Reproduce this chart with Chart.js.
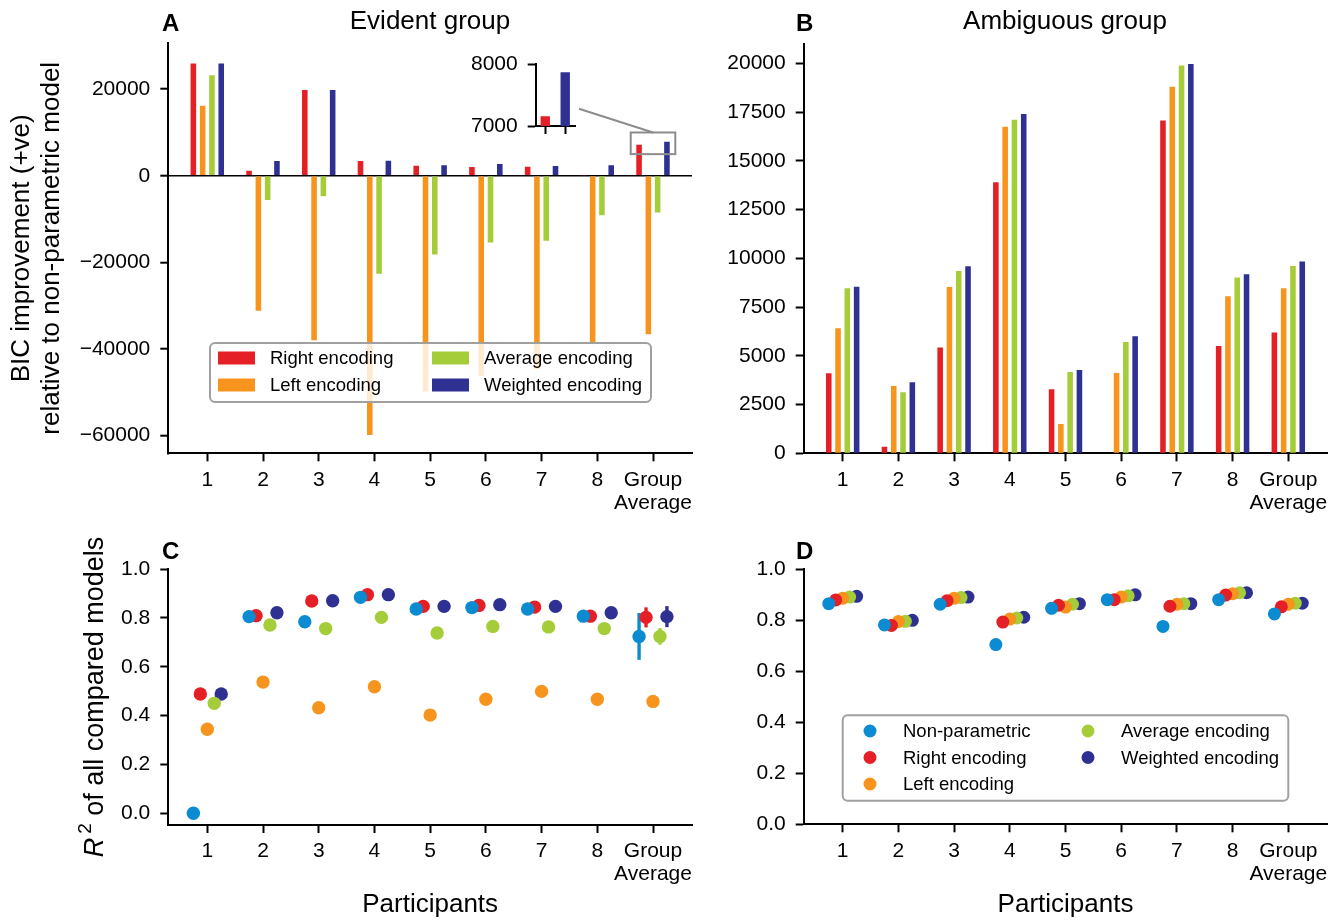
<!DOCTYPE html>
<html lang="en">
<head>
<meta charset="UTF-8">
<title>BIC improvement and R² per participant</title>
<script src="https://cdn.jsdelivr.net/npm/chart.js"></script>
<style>
  body { margin: 0; background: #fff; }
  #fig { position: relative; width: 1343px; height: 920px; font-family: 'Liberation Sans', Arial, sans-serif; color: #000; }
  #fig canvas { position: absolute; }
  .txt { position: absolute; white-space: nowrap; }
  .letter { font-weight: bold; font-size: 24px; line-height: 24px; }
  .title { font-size: 26px; line-height: 26px; width: 400px; text-align: center; }
</style>
</head>
<body>
<div id="fig">
  <canvas id="chartA" width="720" height="525" style="left:0;top:10px"></canvas>
  <canvas id="chartB" width="653" height="525" style="left:690px;top:10px"></canvas>
  <canvas id="chartC" width="720" height="385" style="left:0;top:535px"></canvas>
  <canvas id="chartD" width="653" height="385" style="left:690px;top:535px"></canvas>
  <canvas id="chartInset" width="150" height="125" style="left:440px;top:30px"></canvas>

  <div class="txt letter" style="left:162px;top:11px">A</div>
  <div class="txt letter" style="left:796px;top:11px">B</div>
  <div class="txt letter" style="left:162px;top:539px">C</div>
  <div class="txt letter" style="left:796px;top:539px">D</div>
  <div class="txt title" style="left:230px;top:7px">Evident group</div>
  <div class="txt title" style="left:865px;top:7px">Ambiguous group</div>
</div>

<script>
  // ---- data ----
  const participants = ['1', '2', '3', '4', '5', '6', '7', '8', ['Group', 'Average']];

  // BIC improvement relative to the non-parametric model, evident group
  const evidentRight    = [25950, 1150, 19800, 3400, 2300, 2000, 2100, 100, 7160];
  const evidentLeft     = [16200, -31200, -38000, -59900, -49800, -46200, -44600, -38900, -36600];
  const evidentAverage  = [23200, -5600, -4700, -22600, -18200, -15400, -15000, -9100, -8500];
  const evidentWeighted = [25950, 3400, 19800, 3450, 2450, 2700, 2250, 2450, 7870];
  const evidentTicks = [-60000, -40000, -20000, 0, 20000];
  const insetTicks = [7000, 8000];

  // BIC improvement, ambiguous group
  const ambiguousRight    = [4100, 340, 5420, 13900, 3280, 0, 17070, 5500, 6200];
  const ambiguousLeft     = [6410, 3450, 8530, 16750, 1500, 4120, 18800, 8050, 8460];
  const ambiguousAverage  = [8460, 3130, 9350, 17110, 4170, 5710, 19890, 9020, 9600];
  const ambiguousWeighted = [8545, 3640, 9590, 17400, 4270, 6000, 19960, 9180, 9840];
  const ambiguousTicks = [0, 2500, 5000, 7500, 10000, 12500, 15000, 17500, 20000];

  // R^2 of compared models, evident group
  const evidentR2NonPar   = [0.000, 0.805, 0.784, 0.884, 0.836, 0.842, 0.836, 0.807, 0.724];
  const evidentR2Right    = [0.488, 0.809, 0.869, 0.895, 0.847, 0.851, 0.844, 0.807, 0.802];
  const evidentR2Left     = [0.344, 0.537, 0.432, 0.518, 0.402, 0.467, 0.499, 0.467, 0.458];
  const evidentR2Average  = [0.450, 0.771, 0.756, 0.802, 0.738, 0.765, 0.763, 0.756, 0.724];
  const evidentR2Weighted = [0.488, 0.821, 0.870, 0.895, 0.847, 0.854, 0.847, 0.821, 0.805];
  // error of the group average (non-param, right, left, average, weighted)
  const evidentR2GroupErr = [0.096, 0.041, 0.006, 0.034, 0.043];

  // R^2 of compared models, ambiguous group
  const ambiguousR2NonPar   = [0.864, 0.781, 0.862, 0.704, 0.846, 0.880, 0.775, 0.880, 0.824];
  const ambiguousR2Right    = [0.879, 0.779, 0.876, 0.792, 0.858, 0.880, 0.854, 0.898, 0.852];
  const ambiguousR2Left     = [0.885, 0.794, 0.885, 0.804, 0.851, 0.890, 0.862, 0.903, 0.862];
  const ambiguousR2Average  = [0.890, 0.795, 0.888, 0.808, 0.862, 0.895, 0.864, 0.907, 0.866];
  const ambiguousR2Weighted = [0.893, 0.799, 0.890, 0.811, 0.864, 0.899, 0.864, 0.907, 0.866];
  const r2Ticks = [0, 0.2, 0.4, 0.6, 0.8, 1.0];

  // ---- styling / layout ----
  const RED = '#e41f26', ORANGE = '#f7941d', GREEN = '#a5cd39', NAVY = '#2e3192', BLUE = '#0b8bd1';
  const FONT = "'Liberation Sans', Arial, sans-serif";
  const DOT_OFFSETS = [-0.25, -0.125, 0, 0.125, 0.25];

  Chart.defaults.font.family = FONT;
  Chart.defaults.color = '#000';

  // canvas boxes and the plot areas wanted inside them (page pixels)
  const POS = {
    A: { left: 0, top: 10, w: 720, h: 525 },
    B: { left: 690, top: 10, w: 653, h: 525 },
    C: { left: 0, top: 535, w: 720, h: 385 },
    D: { left: 690, top: 535, w: 653, h: 385 },
    inset: { left: 440, top: 30, w: 150, h: 125 }
  };
  const AREA = {
    A: { left: 168.3, top: 43.3, right: 692, bottom: 453.3 },
    B: { left: 803.7, top: 44, right: 1327.3, bottom: 453.3 },
    C: { left: 168.3, top: 569, right: 692, bottom: 825 },
    D: { left: 803.7, top: 569, right: 1327.3, bottom: 824.3 },
    inset: { left: 535.7, top: 64.3, right: 575, bottom: 126 }
  };

  function fitArea(key) {
    const p = POS[key], a = AREA[key];
    return {
      padding: { left: 0, bottom: 0, top: a.top - p.top, right: p.left + p.w - a.right },
      yWidth: a.left - p.left,
      xHeight: p.top + p.h - a.bottom
    };
  }

  const axisGrid = { drawOnChartArea: false, offset: false, tickLength: 8, tickWidth: 2, tickColor: '#000' };
  const axisBorder = { display: true, color: '#000', width: 2 };

  function participantAxis(height, title) {
    return {
      type: 'linear', min: -0.7, max: 8.7, offset: false,
      afterBuildTicks: s => { s.ticks = participants.map((_, i) => ({ value: i })); },
      afterFit: s => { s.height = height; },
      ticks: {
        callback: v => participants[v],
        font: { size: 21, lineHeight: 1.1 }, padding: 7,
        minRotation: 0, maxRotation: 0, autoSkip: false
      },
      grid: axisGrid,
      border: axisBorder,
      title: title ? { display: true, text: title, font: { size: 26, lineHeight: 1.2 }, padding: 0 } : { display: false }
    };
  }

  function valueAxis(width, min, max, ticks, fmt, extra) {
    return Object.assign({
      type: 'linear', min, max,
      afterBuildTicks: s => { s.ticks = ticks.map(v => ({ value: v })); },
      afterFit: s => { s.width = width; },
      ticks: { callback: fmt, font: { size: 21 }, padding: 10 },
      grid: axisGrid,
      border: axisBorder
    }, extra || {});
  }

  const signed = v => (v < 0 ? '\u2212' + (-v) : String(v));

  function barSets(series) {
    return series.map(([label, values, color]) => ({
      label,
      data: values.map((v, i) => ({ x: i, y: v })),
      backgroundColor: color,
      borderWidth: 0,
      categoryPercentage: 0.667,
      barPercentage: 0.6
    }));
  }

  function dotSets(series, radius, groupErr) {
    return series.map(([label, values, color], k) => ({
      label,
      data: values.map((v, i) => ({ x: i + DOT_OFFSETS[k], y: v })),
      backgroundColor: color,
      borderWidth: 0,
      pointRadius: radius,
      pointHoverRadius: radius,
      yErr: groupErr ? values.map((_, i) => (i === values.length - 1 ? groupErr[k] : 0)) : null
    }));
  }

  // framed legend inside the plot area; items = [datasetIndex, column, row]
  function boxLegend(id, box, items, marker) {
    return {
      id,
      afterDraw(chart) {
        const { ctx, chartArea: a } = chart;
        const x0 = a.left + box.x, y0 = a.top + box.y;
        ctx.save();
        ctx.beginPath();
        ctx.roundRect(x0, y0, box.w, box.h, 5);
        ctx.fillStyle = 'rgba(255,255,255,0.8)';
        ctx.fill();
        ctx.lineWidth = 2;
        ctx.strokeStyle = '#a0a0a0';
        ctx.stroke();
        ctx.font = '18.5px ' + FONT;
        ctx.textBaseline = 'middle';
        items.forEach(([di, col, row]) => {
          const ds = chart.data.datasets[di];
          const cy = y0 + box.row0 + row * box.rowGap;
          const mx = x0 + box.cols[col];
          ctx.fillStyle = ds.backgroundColor;
          if (marker === 'rect') {
            ctx.fillRect(mx, cy - 6.5, 37, 13);
          } else {
            ctx.beginPath();
            ctx.arc(mx, cy, 6.5, 0, Math.PI * 2);
            ctx.fill();
          }
          ctx.fillStyle = '#000';
          ctx.fillText(ds.label, mx + box.textGap, cy + 1);
        });
        ctx.restore();
      }
    };
  }

  const errorBars = {
    id: 'errorBars',
    beforeDatasetsDraw(chart) {
      const { ctx, scales: { x, y } } = chart;
      ctx.save();
      ctx.lineWidth = 3.4;
      chart.data.datasets.forEach(ds => {
        if (!ds.yErr) return;
        ds.data.forEach((p, i) => {
          const e = ds.yErr[i];
          if (!e) return;
          const px = x.getPixelForValue(p.x);
          ctx.strokeStyle = ds.backgroundColor;
          ctx.beginPath();
          ctx.moveTo(px, y.getPixelForValue(p.y - e));
          ctx.lineTo(px, y.getPixelForValue(p.y + e));
          ctx.stroke();
        });
      });
      ctx.restore();
    }
  };

  // y title with an italic R and superscript 2
  const r2Title = {
    id: 'r2Title',
    afterDraw(chart) {
      const { ctx, chartArea: a } = chart;
      const big = '27px ' + FONT, ital = 'italic 27px ' + FONT, small = '19px ' + FONT;
      const rest = ' of all compared models';
      ctx.save();
      ctx.translate(93, (a.top + a.bottom) / 2);
      ctx.rotate(-Math.PI / 2);
      ctx.font = ital; const wR = ctx.measureText('R').width + 4;
      ctx.font = small; const w2 = ctx.measureText('2').width;
      ctx.font = big; const wRest = ctx.measureText(rest).width;
      let x = -(wR + w2 + wRest) / 2;
      ctx.fillStyle = '#000';
      ctx.textBaseline = 'alphabetic';
      ctx.font = ital; ctx.fillText('R', x, 10); x += wR;
      ctx.font = small; ctx.fillText('2', x, -2); x += w2;
      ctx.font = big; ctx.fillText(rest, x, 10);
      ctx.restore();
    }
  };

  const common = { responsive: false, animation: false, devicePixelRatio: 1 };
  const noChrome = { legend: { display: false }, tooltip: { enabled: false } };

  // ---- inset: group average, right vs weighted ----
  const fi = fitArea('inset');
  const insetChart = new Chart(document.getElementById('chartInset'), {
    type: 'bar',
    data: {
      datasets: [{
        data: [{ x: 0, y: evidentRight[8] }, { x: 1, y: evidentWeighted[8] }],
        backgroundColor: [RED, NAVY],
        borderWidth: 0,
        categoryPercentage: 1,
        barPercentage: 0.47
      }]
    },
    options: Object.assign({}, common, {
      layout: { padding: fi.padding },
      plugins: noChrome,
      scales: {
        x: {
          type: 'linear', min: -0.48, max: 1.49, offset: false,
          afterBuildTicks: s => { s.ticks = [{ value: 0 }, { value: 1 }]; },
          afterFit: s => { s.height = fi.xHeight; },
          ticks: { callback: () => '', padding: 0 },
          grid: axisGrid, border: axisBorder
        },
        y: valueAxis(fi.yWidth, 7000, 8000, insetTicks, v => String(v))
      }
    })
  });

  // ---- A: evident group BIC ----
  const zoomMark = {
    id: 'zoomMark',
    afterDatasetsDraw(chart) {
      const { ctx, scales: { x, y } } = chart;
      const l = x.getPixelForValue(7.6), r = x.getPixelForValue(8.4);
      const t = y.getPixelForValue(10000), b = y.getPixelForValue(5000);
      const ia = insetChart.chartArea;
      const ex = POS.inset.left + ia.right + 4 - POS.A.left;
      const ey = POS.inset.top + insetChart.scales.y.getPixelForValue(7280) - POS.A.top;
      ctx.save();
      ctx.strokeStyle = '#8c8c8c';
      ctx.lineWidth = 2;
      ctx.strokeRect(l, t, r - l, b - t);
      ctx.beginPath();
      ctx.moveTo(ex, ey);
      ctx.lineTo(x.getPixelForValue(8), t);
      ctx.stroke();
      ctx.restore();
    }
  };

  const fa = fitArea('A');
  new Chart(document.getElementById('chartA'), {
    type: 'bar',
    data: {
      datasets: barSets([
        ['Right encoding', evidentRight, RED],
        ['Left encoding', evidentLeft, ORANGE],
        ['Average encoding', evidentAverage, GREEN],
        ['Weighted encoding', evidentWeighted, NAVY]
      ])
    },
    options: Object.assign({}, common, {
      layout: { padding: fa.padding },
      plugins: noChrome,
      scales: {
        x: participantAxis(fa.xHeight, null),
        y: valueAxis(fa.yWidth, -64100, 30600, evidentTicks, signed, {
          grid: {
            drawOnChartArea: true, offset: false, tickLength: 8, tickWidth: 2, tickColor: '#000', lineWidth: 1.4,
            color: c => (c.tick && c.tick.value === 0 ? '#000' : 'rgba(0,0,0,0)')
          },
          title: {
            display: true,
            text: ['BIC improvement (+ve)', 'relative to non-parametric model'],
            font: { size: 26, lineHeight: 1.15 },
            padding: { top: 7, bottom: 0 }
          }
        })
      }
    }),
    plugins: [
      zoomMark,
      boxLegend('legendA', { x: 41.7, y: 299.7, w: 441, h: 59, row0: 15, rowGap: 27, cols: [8, 222], textGap: 52 },
        [[0, 0, 0], [1, 0, 1], [2, 1, 0], [3, 1, 1]], 'rect')
    ]
  });

  // ---- B: ambiguous group BIC ----
  const fb = fitArea('B');
  new Chart(document.getElementById('chartB'), {
    type: 'bar',
    data: {
      datasets: barSets([
        ['Right encoding', ambiguousRight, RED],
        ['Left encoding', ambiguousLeft, ORANGE],
        ['Average encoding', ambiguousAverage, GREEN],
        ['Weighted encoding', ambiguousWeighted, NAVY]
      ])
    },
    options: Object.assign({}, common, {
      layout: { padding: fb.padding },
      plugins: noChrome,
      scales: {
        x: participantAxis(fb.xHeight, null),
        y: valueAxis(fb.yWidth, 0, 20990, ambiguousTicks, v => String(v))
      }
    })
  });

  // ---- C: evident group R^2 ----
  const fc = fitArea('C');
  new Chart(document.getElementById('chartC'), {
    type: 'scatter',
    data: {
      datasets: dotSets([
        ['Non-parametric', evidentR2NonPar, BLUE],
        ['Right encoding', evidentR2Right, RED],
        ['Left encoding', evidentR2Left, ORANGE],
        ['Average encoding', evidentR2Average, GREEN],
        ['Weighted encoding', evidentR2Weighted, NAVY]
      ], 6.7, evidentR2GroupErr)
    },
    options: Object.assign({}, common, {
      layout: { padding: fc.padding },
      plugins: noChrome,
      scales: {
        x: participantAxis(fc.xHeight, 'Participants'),
        y: valueAxis(fc.yWidth, -0.048, 1.0, r2Ticks, v => v.toFixed(1))
      }
    }),
    plugins: [errorBars, r2Title]
  });

  // ---- D: ambiguous group R^2 ----
  const fd = fitArea('D');
  new Chart(document.getElementById('chartD'), {
    type: 'scatter',
    data: {
      datasets: dotSets([
        ['Non-parametric', ambiguousR2NonPar, BLUE],
        ['Right encoding', ambiguousR2Right, RED],
        ['Left encoding', ambiguousR2Left, ORANGE],
        ['Average encoding', ambiguousR2Average, GREEN],
        ['Weighted encoding', ambiguousR2Weighted, NAVY]
      ], 6.5, null)
    },
    options: Object.assign({}, common, {
      layout: { padding: fd.padding },
      plugins: noChrome,
      scales: {
        x: participantAxis(fd.xHeight, 'Participants'),
        y: valueAxis(fd.yWidth, 0, 1.0, r2Ticks, v => v.toFixed(1))
      }
    }),
    plugins: [
      boxLegend('legendD', { x: 39, y: 146.3, w: 445.6, h: 85.4, row0: 15.7, rowGap: 26.5, cols: [27.3, 245.3], textGap: 33 },
        [[0, 0, 0], [1, 0, 1], [2, 0, 2], [3, 1, 0], [4, 1, 1]], 'dot')
    ]
  });
</script>
</body>
</html>
